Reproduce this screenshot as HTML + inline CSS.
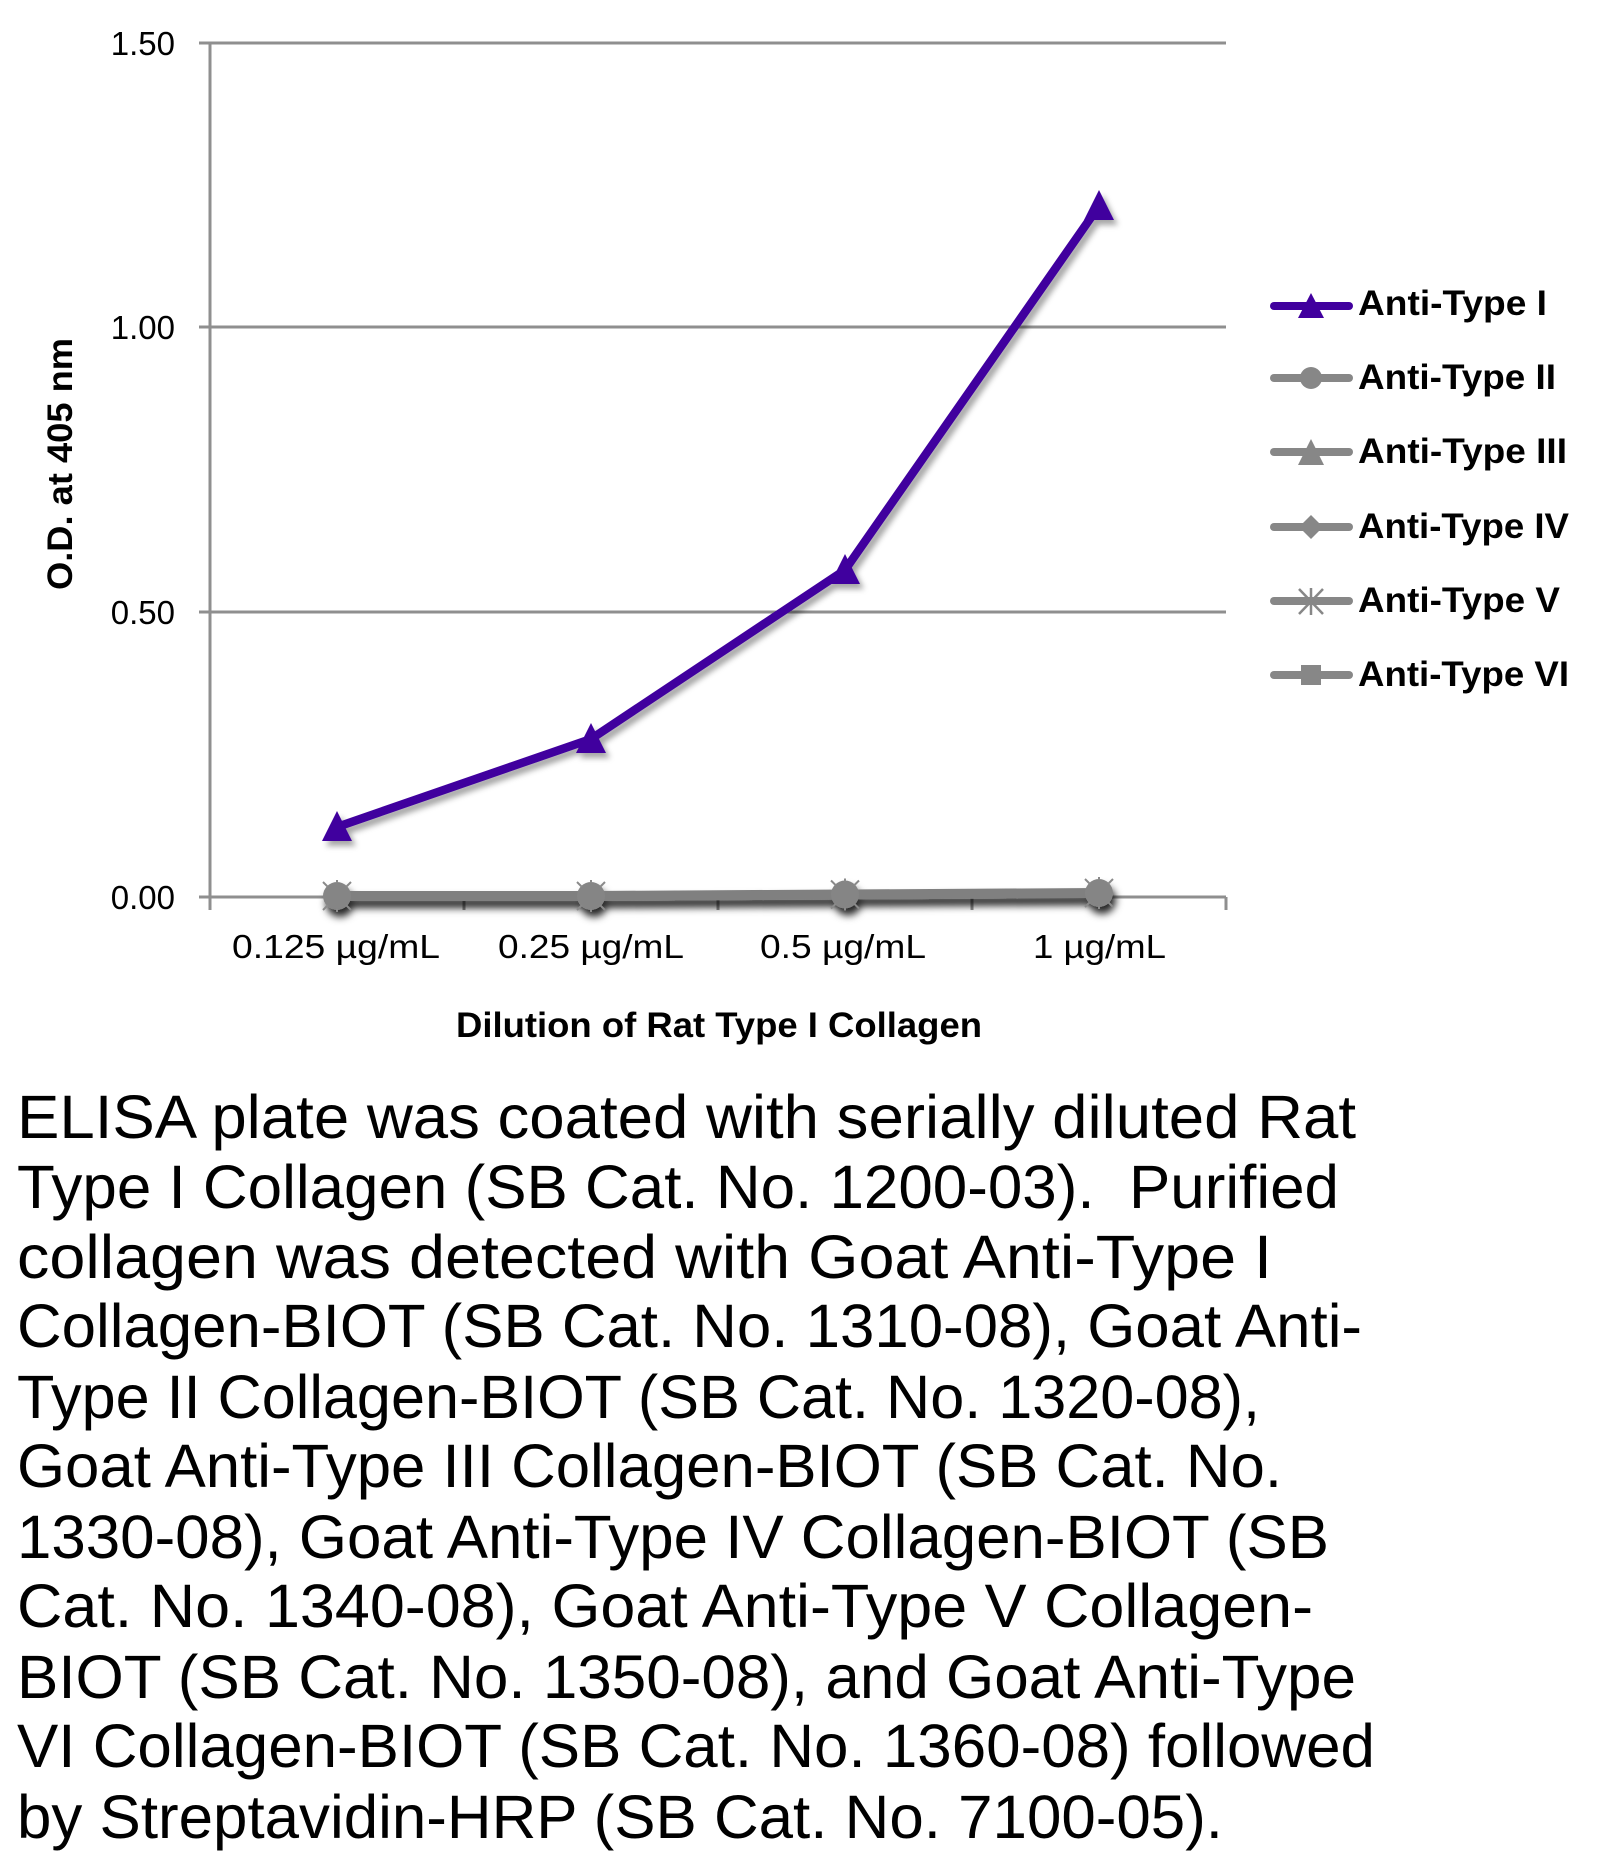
<!DOCTYPE html>
<html>
<head>
<meta charset="utf-8">
<style>
html,body{margin:0;padding:0;background:#fff;}
svg{display:block;}
</style>
</head>
<body>
<svg width="1620" height="1865" viewBox="0 0 1620 1865" xmlns="http://www.w3.org/2000/svg">
<defs>
<filter id="ps" x="-20%" y="-20%" width="140%" height="140%">
<feDropShadow dx="4" dy="5" stdDeviation="3" flood-color="#000" flood-opacity="0.35"/>
</filter>
<filter id="gs" x="-100%" y="-100%" width="300%" height="300%">
<feDropShadow dx="3" dy="7" stdDeviation="4" flood-color="#000" flood-opacity="0.85"/>
</filter>
</defs>
<rect width="1620" height="1865" fill="#fff"/>

<!-- gridlines -->
<g stroke="#8f8f8f" stroke-width="3" fill="none">
<line x1="199" y1="43" x2="1226" y2="43"/>
<line x1="199" y1="327" x2="1226" y2="327"/>
<line x1="199" y1="612" x2="1226" y2="612"/>
<line x1="199" y1="897" x2="1226" y2="897"/>
<line x1="210" y1="43" x2="210" y2="910"/>
<line x1="464" y1="897" x2="464" y2="910"/>
<line x1="718" y1="897" x2="718" y2="910"/>
<line x1="972" y1="897" x2="972" y2="910"/>
<line x1="1226" y1="897" x2="1226" y2="910"/>
</g>

<!-- y tick labels -->
<g font-family="Liberation Sans, sans-serif" font-size="33" fill="#000" text-anchor="end">
<text x="175" y="55">1.50</text>
<text x="175" y="339">1.00</text>
<text x="175" y="624">0.50</text>
<text x="175" y="909">0.00</text>
</g>

<!-- x tick labels -->
<g font-family="Liberation Sans, sans-serif" font-size="33" fill="#000">
<text x="232" y="958" textLength="208" lengthAdjust="spacingAndGlyphs">0.125 µg/mL</text>
<text x="498" y="958" textLength="186" lengthAdjust="spacingAndGlyphs">0.25 µg/mL</text>
<text x="760" y="958" textLength="166" lengthAdjust="spacingAndGlyphs">0.5 µg/mL</text>
<text x="1033" y="958" textLength="133" lengthAdjust="spacingAndGlyphs">1 µg/mL</text>
</g>

<!-- axis titles -->
<text x="456" y="1037" font-family="Liberation Sans, sans-serif" font-weight="bold" font-size="35" textLength="526" lengthAdjust="spacingAndGlyphs">Dilution of Rat Type I Collagen</text>
<text transform="translate(72,590) rotate(-90)" x="0" y="0" font-family="Liberation Sans, sans-serif" font-weight="bold" font-size="35" textLength="252" lengthAdjust="spacingAndGlyphs">O.D. at 405 nm</text>

<!-- gray series -->
<g filter="url(#gs)">
<polyline points="337,896 591,896 845,894.5 1099,893" fill="none" stroke="#808080" stroke-width="10"/>
<g fill="#858585">
<circle cx="337" cy="896" r="14"/>
<circle cx="591" cy="896" r="14"/>
<circle cx="845" cy="894.5" r="14"/>
<circle cx="1099" cy="893" r="14"/>
</g>
</g>
<g stroke="#8a8a8a" stroke-width="2">
<path d="M323,882 L351,910 M351,882 L323,910 M337,880 L337,912"/>
<path d="M577,882 L605,910 M605,882 L577,910 M591,880 L591,912"/>
<path d="M831,880.5 L859,908.5 M859,880.5 L831,908.5 M845,878.5 L845,910.5"/>
<path d="M1085,879 L1113,907 M1113,879 L1085,907 M1099,877 L1099,909"/>
</g>
<g fill="#858585">
<circle cx="337" cy="896" r="13"/>
<circle cx="591" cy="896" r="13"/>
<circle cx="845" cy="894.5" r="13"/>
<circle cx="1099" cy="893" r="13"/>
</g>

<!-- purple series -->
<g filter="url(#ps)">
<polyline points="337,827 591,739 845,570 1099,206" fill="none" stroke="#41009e" stroke-width="8.5" stroke-linejoin="round"/>
<g fill="#41009e">
<polygon points="337,811 322,841 352,841"/>
<polygon points="591,723 576,753 606,753"/>
<polygon points="845,554 830,584 860,584"/>
<polygon points="1099,190 1084,220 1114,220"/>
</g>
</g>

<!-- legend -->
<g stroke-width="8" stroke-linecap="round">
<line x1="1274" y1="306" x2="1349" y2="306" stroke="#41009e"/>
<line x1="1274" y1="378" x2="1349" y2="378" stroke="#878787"/>
<line x1="1274" y1="452" x2="1349" y2="452" stroke="#878787"/>
<line x1="1274" y1="527" x2="1349" y2="527" stroke="#878787"/>
<line x1="1274" y1="601" x2="1349" y2="601" stroke="#878787"/>
<line x1="1274" y1="675" x2="1349" y2="675" stroke="#878787"/>
</g>
<polygon points="1311,293 1298,318 1324,318" fill="#41009e"/>
<circle cx="1311" cy="378" r="11" fill="#878787"/>
<polygon points="1311,439 1298,465 1324,465" fill="#878787"/>
<polygon points="1311,515 1323,527 1311,539 1299,527" fill="#878787"/>
<path d="M1311,588 L1311,615 M1299,589 L1323,614 M1323,589 L1299,614" stroke="#878787" stroke-width="2.5"/>
<rect x="1301" y="665" width="20" height="20" fill="#878787"/>

<g font-family="Liberation Sans, sans-serif" font-weight="bold" font-size="35" fill="#000">
<text x="1358" y="315" textLength="189" lengthAdjust="spacingAndGlyphs">Anti-Type I</text>
<text x="1358" y="389" textLength="198" lengthAdjust="spacingAndGlyphs">Anti-Type II</text>
<text x="1358" y="463" textLength="209" lengthAdjust="spacingAndGlyphs">Anti-Type III</text>
<text x="1358" y="538" textLength="211" lengthAdjust="spacingAndGlyphs">Anti-Type IV</text>
<text x="1358" y="612" textLength="202" lengthAdjust="spacingAndGlyphs">Anti-Type V</text>
<text x="1358" y="686" textLength="211" lengthAdjust="spacingAndGlyphs">Anti-Type VI</text>
</g>

<!-- caption -->
<g font-family="Liberation Sans, sans-serif" font-size="61" fill="#000">
<text x="17" y="1138" textLength="1339" lengthAdjust="spacingAndGlyphs">ELISA plate was coated with serially diluted Rat</text>
<text x="17" y="1208" textLength="1322" lengthAdjust="spacingAndGlyphs">Type I Collagen (SB Cat. No. 1200-03).&#160; Purified</text>
<text x="17" y="1278" textLength="1255" lengthAdjust="spacingAndGlyphs">collagen was detected with Goat Anti-Type I</text>
<text x="17" y="1347" textLength="1345" lengthAdjust="spacingAndGlyphs">Collagen-BIOT (SB Cat. No. 1310-08), Goat Anti-</text>
<text x="17" y="1418" textLength="1243" lengthAdjust="spacingAndGlyphs">Type II Collagen-BIOT (SB Cat. No. 1320-08),</text>
<text x="17" y="1487" textLength="1265" lengthAdjust="spacingAndGlyphs">Goat Anti-Type III Collagen-BIOT (SB Cat. No.</text>
<text x="17" y="1558" textLength="1312" lengthAdjust="spacingAndGlyphs">1330-08), Goat Anti-Type IV Collagen-BIOT (SB</text>
<text x="17" y="1627" textLength="1296" lengthAdjust="spacingAndGlyphs">Cat. No. 1340-08), Goat Anti-Type V Collagen-</text>
<text x="17" y="1698" textLength="1339" lengthAdjust="spacingAndGlyphs">BIOT (SB Cat. No. 1350-08), and Goat Anti-Type</text>
<text x="17" y="1767" textLength="1358" lengthAdjust="spacingAndGlyphs">VI Collagen-BIOT (SB Cat. No. 1360-08) followed</text>
<text x="17" y="1838" textLength="1206" lengthAdjust="spacingAndGlyphs">by Streptavidin-HRP (SB Cat. No. 7100-05).</text>
</g>
</svg>
</body>
</html>
